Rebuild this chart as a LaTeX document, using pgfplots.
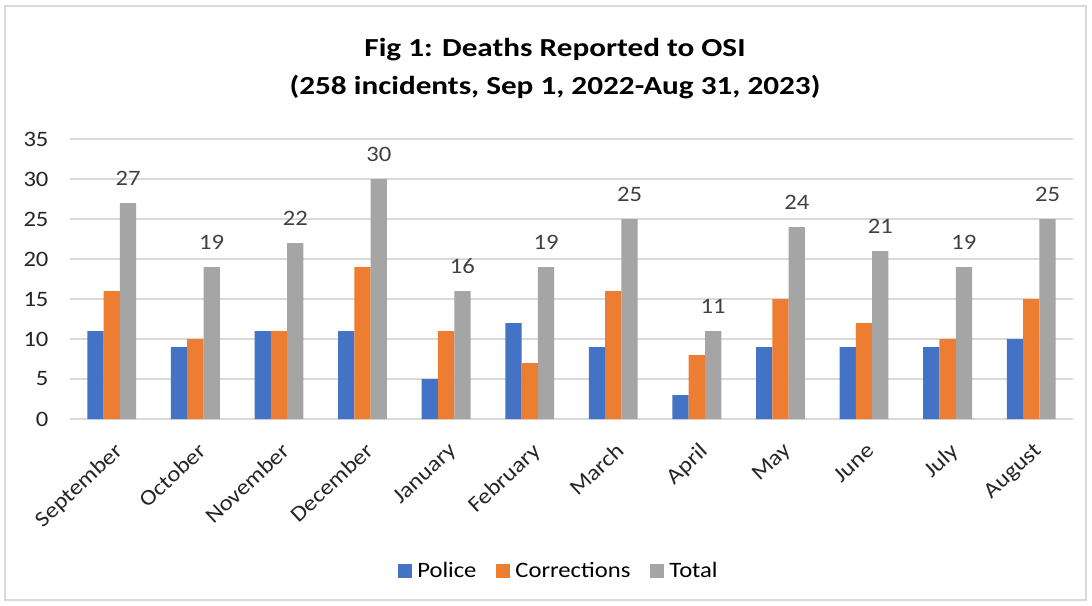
\documentclass[border=0pt]{standalone}
\usepackage{fontspec}
\setmainfont{Carlito}[FakeStretch=1.12]
\newfontfamily\titlefont{Carlito}[FakeStretch=1.2]
\usepackage{pgfplots}
\pgfplotsset{compat=1.18}
\definecolor{police}{HTML}{4472C4}
\definecolor{corr}{HTML}{ED7D31}
\definecolor{total}{HTML}{A5A5A5}
\definecolor{gridc}{HTML}{D9D9D9}
\definecolor{labc}{HTML}{404040}
\begin{document}
\begin{tikzpicture}
\path[fill=white] (0bp,0bp) rectangle (1092bp,-606bp);
\draw[gridc, line width=1.2bp] (5bp,-6bp) rectangle (1086bp,-600bp);
\node[anchor=base, font=\titlefont\fontsize{26bp}{31bp}\selectfont\bfseries] at (555bp,-56bp) {Fig 1: Deaths Reported to OSI};
\node[anchor=base, font=\titlefont\fontsize{26bp}{31bp}\selectfont\bfseries] at (555bp,-94bp) {(258 incidents, Sep 1, 2022-Aug 31, 2023)};
\begin{axis}[
  at={(70bp,-419bp)}, anchor=south west,
  scale only axis, width=1003bp, height=280bp,
  ymin=0, ymax=35, ytick={0,5,...,35},
  xmin=-0.5, xmax=11.5,
  xtick={0,...,11},
  xticklabels={September,October,November,December,January,February,March,April,May,June,July,August},
  ybar=0pt, bar width=16.3bp,
  axis line style={draw=none},
  axis x line*=bottom, axis y line*=left,
  major tick length=0pt,
  ymajorgrids, grid style={gridc, line width=1.2bp},
  /pgf/number format/assume math mode=true,
  ticklabel style={font=\fontsize{22bp}{26bp}\selectfont, text=black!85},
  yticklabel style={xshift=-18bp},
  xticklabel style={rotate=43, anchor=north east, xshift=-11bp, yshift=-14bp},
  legend columns=3,
  legend style={draw=none, at={(0.4875,-0.543)}, anchor=center, font=\fontsize{22bp}{26bp}\selectfont,
    /tikz/every even column/.append style={column sep=18bp}},
  legend image code/.code={\draw[#1,draw=none] (0bp,-7bp) rectangle (14bp,7bp); \path (17bp,0bp);},
  clip=false,
]
\draw[gridc, line width=1.2bp] (axis cs:-0.5,0) -- (axis cs:11.5,0);
\addplot[fill=police, draw=none] coordinates {(0,11) (1,9) (2,11) (3,11) (4,5) (5,12) (6,9) (7,3) (8,9) (9,9) (10,9) (11,10)};
\addplot[fill=corr, draw=none] coordinates {(0,16) (1,10) (2,11) (3,19) (4,11) (5,7) (6,16) (7,8) (8,15) (9,12) (10,10) (11,15)};
\addplot[fill=total, draw=none, nodes near coords,
  every node near coord/.append style={font=\fontsize{22bp}{26bp}\selectfont, text=labc, yshift=14bp}]
  coordinates {(0,27) (1,19) (2,22) (3,30) (4,16) (5,19) (6,25) (7,11) (8,24) (9,21) (10,19) (11,25)};
\legend{Police,Corrections,Total}
\end{axis}
\end{tikzpicture}
\end{document}
